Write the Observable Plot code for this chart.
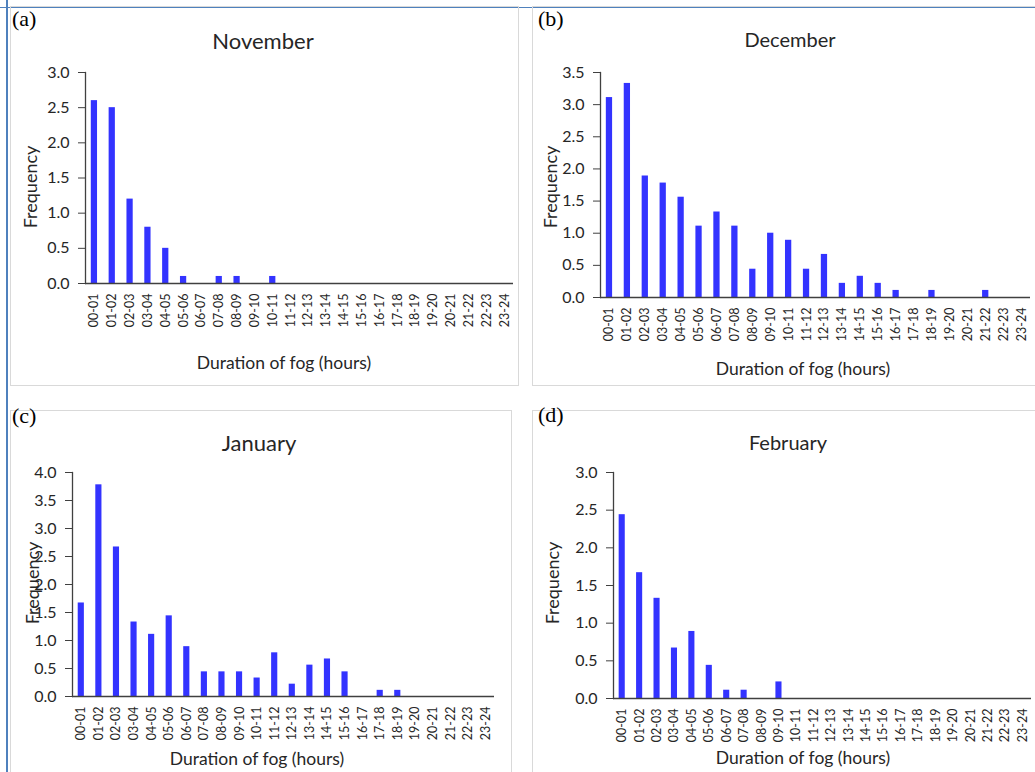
<!DOCTYPE html>
<html>
<head>
<meta charset="utf-8">
<script src="https://cdn.jsdelivr.net/npm/d3@7"></script>
<script src="https://cdn.jsdelivr.net/npm/@observablehq/plot@0.6"></script>
<style>
  html, body { margin: 0; padding: 0; background: #fff; }
  #root { position: relative; width: 1035px; height: 772px; overflow: hidden; background: #fff; font-family: Lato, "Noto Sans", sans-serif; color: #262626; }
  .box { position: absolute; border: 1.5px solid #d9d9d9; box-sizing: border-box; }
  .abs { position: absolute; white-space: nowrap; line-height: 1; }
  .plabel { font-family: "Liberation Serif", "DejaVu Serif", serif; font-size: 22px; color: #000; }
  .title { transform: translate(-50%, -50%); }
  .ytitle { transform: translate(-50%, -50%) rotate(-90deg); font-size: 18px; }
  .xtitle { transform: translate(-50%, -50%); font-size: 17.5px; }
  .plot { position: absolute; }
</style>
</head>
<body>
<div id="root"></div>
<script>
// ---- Data ----
const intervals = ["00-01","01-02","02-03","03-04","04-05","05-06","06-07","07-08","08-09","09-10","10-11","11-12",
                   "12-13","13-14","14-15","15-16","16-17","17-18","18-19","19-20","20-21","21-22","22-23","23-24"];
const november = [2.6, 2.5, 1.2, 0.8, 0.5, 0.1, 0, 0.1, 0.1, 0, 0.1, 0, 0, 0, 0, 0, 0, 0, 0, 0, 0, 0, 0, 0];
const december = [3.11, 3.33, 1.89, 1.78, 1.56, 1.11, 1.33, 1.11, 0.44, 1.0, 0.89, 0.44, 0.67, 0.22, 0.33, 0.22, 0.11, 0, 0.11, 0, 0, 0.11, 0, 0];
const january  = [1.67, 3.78, 2.67, 1.33, 1.11, 1.44, 0.89, 0.44, 0.44, 0.44, 0.33, 0.78, 0.22, 0.56, 0.67, 0.44, 0, 0.11, 0.11, 0, 0, 0, 0, 0];
const february = [2.44, 1.67, 1.33, 0.67, 0.89, 0.44, 0.11, 0.11, 0, 0.22, 0, 0, 0, 0, 0, 0, 0, 0, 0, 0, 0, 0, 0, 0];
const yTicksNov = [0, 0.5, 1.0, 1.5, 2.0, 2.5, 3.0];
const yTicksDec = [0, 0.5, 1.0, 1.5, 2.0, 2.5, 3.0, 3.5];
const yTicksJan = [0, 0.5, 1.0, 1.5, 2.0, 2.5, 3.0, 3.5, 4.0];
const yTicksFeb = [0, 0.5, 1.0, 1.5, 2.0, 2.5, 3.0];
const panelLabels = ["(a)", "(b)", "(c)", "(d)"];
const monthNames = ["November", "December", "January", "February"];
const xTitle = "Duration of fog (hours)";
const yTitle = "Frequency";

// ---- Layout ----
const panels = [
  {values: november, ticks: yTicksNov, ymax: 3.0,
   box: [9.5, 6, 509, 380], svg: [10, 8, 508, 377], frame: [85, 513, 72, 283],
   label: [12, 8], title: [263, 41, 22], ytitle: [30, 187], xtitle: [284, 363]},
  {values: december, ticks: yTicksDec, ymax: 3.5,
   box: [532, 6, 520, 380], svg: [533, 8, 502, 377], frame: [600, 1030, 72, 297],
   label: [538, 8], title: [790, 39, 20], ytitle: [550, 187], xtitle: [803, 369]},
  {values: january, ticks: yTicksJan, ymax: 4.0,
   box: [9.5, 410, 502, 380], svg: [10, 410, 501, 362], frame: [72, 494, 472, 696],
   label: [12, 405], title: [259, 443, 22], ytitle: [32, 583], xtitle: [257, 759]},
  {values: february, ticks: yTicksFeb, ymax: 3.0,
   box: [531.5, 410, 520, 380], svg: [532, 410, 503, 362], frame: [613, 1031, 472, 698],
   label: [538, 404], title: [788, 442, 20], ytitle: [552, 583], xtitle: [803, 758]}
];

const root = document.getElementById("root");
function addDiv(cls, text, x, y, extra) {
  const d = document.createElement("div");
  d.className = cls;
  if (text != null) d.textContent = text;
  d.style.left = x + "px";
  d.style.top = y + "px";
  if (extra) Object.assign(d.style, extra);
  root.appendChild(d);
  return d;
}

// outer blue border
addDiv("abs", null, 6, 0, {width: "2px", height: "772px", background: "#4f81bd"});
addDiv("abs", null, 0, 6.5, {width: "1035px", height: "1.5px", background: "#4f81bd"});

panels.forEach((p, i) => {
  const [bx, by, bw, bh] = p.box;
  addDiv("box", null, bx, by, {width: bw + "px", height: bh + "px"});

  const data = intervals.map((k, j) => ({interval: k, value: p.values[j]}));
  const [sx, sy, sw, sh] = p.svg;
  const [fx0, fx1, fy0, fy1] = p.frame;
  const chart = Plot.plot({
    width: sw, height: sh,
    marginLeft: fx0 - sx, marginRight: sx + sw - fx1,
    marginTop: fy0 - sy, marginBottom: sy + sh - fy1,
    style: {fontFamily: "Lato, 'Noto Sans', sans-serif", fontSize: "12px", color: "#262626", background: "transparent", overflow: "visible"},
    x: {domain: intervals, paddingInner: 0.65, paddingOuter: 0.325, round: false, label: null, axis: null},
    y: {domain: [0, p.ymax], label: null, axis: null},
    marks: [
      Plot.barY(data, {x: "interval", y: "value", fill: "#3333ff"}),
      Plot.axisX({tickRotate: -90, tickSize: 0, tickPadding: 10, fontSize: 12.5, label: null}),
      Plot.axisY({ticks: p.ticks, tickFormat: d3.format(".1f"), tickSize: 7, tickPadding: 9, fontSize: 16, label: null, stroke: "#404040"}),
      Plot.ruleY([0], {stroke: "#404040", strokeWidth: 1.3}),
      Plot.frame({anchor: "left", stroke: "#404040", strokeWidth: 1.3})
    ]
  });
  chart.classList.add("plot");
  chart.style.left = sx + "px";
  chart.style.top = sy + "px";
  root.appendChild(chart);

  addDiv("abs plabel", panelLabels[i], p.label[0], p.label[1]);
  addDiv("abs title", monthNames[i], p.title[0], p.title[1], {fontSize: p.title[2] + "px"});
  addDiv("abs ytitle", yTitle, p.ytitle[0], p.ytitle[1]);
  addDiv("abs xtitle", xTitle, p.xtitle[0], p.xtitle[1]);
});
</script>
</body>
</html>
